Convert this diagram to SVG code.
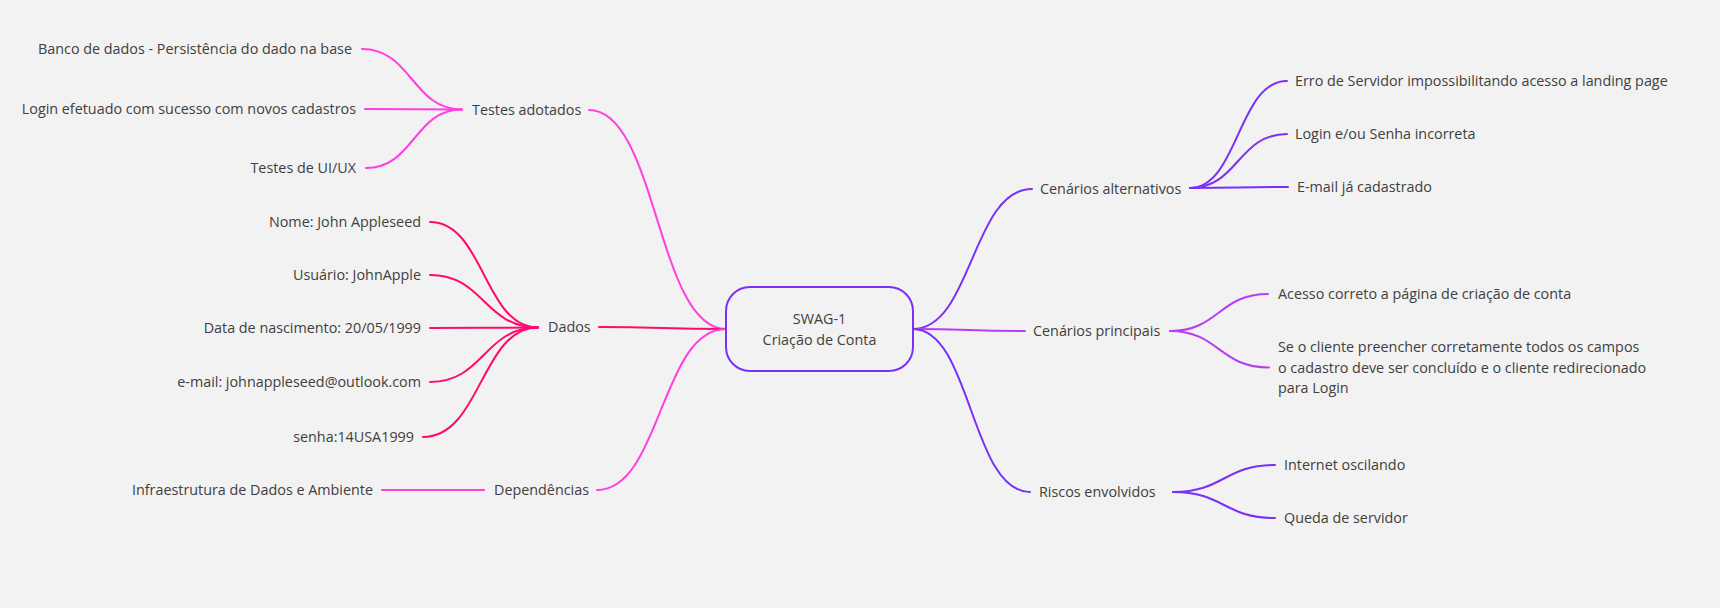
<svg xmlns="http://www.w3.org/2000/svg" width="1720" height="608" viewBox="0 0 1720 608">
<style>
  .t { font-family: "Open Sans", "Noto Sans", "Liberation Sans", sans-serif; font-size: 14.35px; fill: #404040; }
  .e { text-anchor: end; }
  .m { text-anchor: middle; }
  .c { fill: none; stroke-width: 2; stroke-linecap: round; }
  .mag { stroke: #ff3fe3; }
  .red { stroke: #ff0a6e; }
  .vio { stroke: #7b2ff7; }
  .pur { stroke: #b83ef6; }
</style>
<rect x="0" y="0" width="1720" height="608" fill="#f2f2f2"/>
<g id="connectors">
  <!-- main branches -->
  <path class="c mag" d="M589,110 C657,110 657,329 726,329"/>
  <path class="c red" d="M599,327 C662,327 662,329 726,329" stroke-width="2.5"/>
  <path class="c mag" d="M597,490 C661,490 661,329 726,329"/>
  <path class="c vio" d="M913,329 C972,329 972,189 1032,189"/>
  <path class="c pur" d="M913,329 C969,329 969,331 1025,331"/>
  <path class="c vio" d="M913,329 C971,329 971,492 1030,492"/>
  <!-- Testes adotados leaves -->
  <path class="c mag" d="M462,109.5 C412,109.5 412,49 362,49"/>
  <path class="c mag" d="M462,109.5 C413,109.5 413,109 365,109"/>
  <path class="c mag" d="M462,109.5 C414,109.5 414,168 366,168"/>
  <!-- Dados leaves -->
  <path class="c red" d="M538,327.5 C484,327.5 484,222 430,222"/>
  <path class="c red" d="M538,327.5 C484,327.5 484,275 430,275"/>
  <path class="c red" d="M538,327.5 C484,327.5 484,328 430,328"/>
  <path class="c red" d="M538,327.5 C484,327.5 484,382 430,382"/>
  <path class="c red" d="M538,327.5 C481,327.5 481,437 423,437"/>
  <!-- Dependencias leaf -->
  <path class="c mag" d="M484,490 L382,490"/>
  <!-- Cenarios alternativos leaves -->
  <path class="c vio" d="M1190,188 C1238,188 1238,81 1287,81"/>
  <path class="c vio" d="M1190,188 C1238,188 1238,134 1287,134"/>
  <path class="c vio" d="M1190,188 C1238,188 1238,187 1288,187"/>
  <!-- Cenarios principais leaves -->
  <path class="c pur" d="M1170,331 C1219,331 1219,294 1268,294"/>
  <path class="c pur" d="M1170,331 C1219,331 1219,367.5 1269,367.5"/>
  <!-- Riscos leaves -->
  <path class="c vio" d="M1173,492 C1224,492 1224,465 1275,465"/>
  <path class="c vio" d="M1173,492 C1224,492 1224,518 1275,518"/>
</g>
<g id="root">
  <rect x="726" y="287" width="187" height="84" rx="24" ry="24" fill="#f2f2f2" stroke="#7b2ff7" stroke-width="2"/>
  <text class="t m" x="819.5" y="324">SWAG-1</text>
  <text class="t m" x="819.5" y="345">Criação de Conta</text>
</g>
<g id="testes-adotados"><text class="t" x="472" y="115">Testes adotados</text></g>
<g id="banco"><text class="t e" x="352" y="54">Banco de dados - Persistência do dado na base</text></g>
<g id="login-efetuado"><text class="t e" x="356" y="114">Login efetuado com sucesso com novos cadastros</text></g>
<g id="testes-ui"><text class="t e" x="356" y="173">Testes de UI/UX</text></g>
<g id="dados"><text class="t" x="548" y="332">Dados</text></g>
<g id="nome"><text class="t e" x="421" y="227">Nome: John Appleseed</text></g>
<g id="usuario"><text class="t e" x="421" y="280">Usuário: JohnApple</text></g>
<g id="nascimento"><text class="t e" x="421" y="333">Data de nascimento: 20/05/1999</text></g>
<g id="email"><text class="t e" x="421" y="387">e-mail: johnappleseed@outlook.com</text></g>
<g id="senha"><text class="t e" x="414" y="442">senha:14USA1999</text></g>
<g id="dependencias"><text class="t" x="494" y="495">Dependências</text></g>
<g id="infra"><text class="t e" x="373" y="495">Infraestrutura de Dados e Ambiente</text></g>
<g id="cenarios-alternativos"><text class="t" x="1040" y="194">Cenários alternativos</text></g>
<g id="erro-servidor"><text class="t" x="1295" y="86">Erro de Servidor impossibilitando acesso a landing page</text></g>
<g id="login-incorreto"><text class="t" x="1295" y="139">Login e/ou Senha incorreta</text></g>
<g id="email-cadastrado"><text class="t" x="1297" y="192">E-mail já cadastrado</text></g>
<g id="cenarios-principais"><text class="t" x="1033" y="336">Cenários principais</text></g>
<g id="acesso-correto"><text class="t" x="1278" y="299">Acesso correto a página de criação de conta</text></g>
<g id="cliente-preencher"><text class="t" x="1278" y="352">Se o cliente preencher corretamente todos os campos<tspan x="1278" dy="20.5">o cadastro deve ser concluído e o cliente redirecionado</tspan><tspan x="1278" dy="20.5">para Login</tspan></text></g>
<g id="riscos"><text class="t" x="1039" y="497">Riscos envolvidos</text></g>
<g id="internet"><text class="t" x="1284" y="470">Internet oscilando</text></g>
<g id="queda"><text class="t" x="1284" y="523">Queda de servidor</text></g>
</svg>
